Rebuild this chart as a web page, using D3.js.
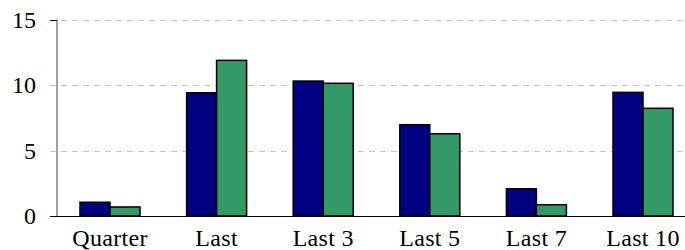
<!DOCTYPE html>
<html><head><meta charset="utf-8">
<script src="https://cdn.jsdelivr.net/npm/d3@7"></script>
<style>body{margin:0;background:#fff}svg{display:block}</style>
</head><body><svg id="c" width="685" height="250"></svg>
<script>
const categories = ["Quarter","Last","Last 3","Last 5","Last 7","Last 10"];
const seriesA = [1.05, 9.41, 10.3, 6.97, 2.08, 9.44];
const seriesB = [0.69, 11.88, 10.13, 6.28, 0.86, 8.22];
const yTicks = [0, 5, 10, 15];
const colors = ["#000080", "#339966"];

(function () {
const svg = d3.select("#c");
const mLeft = 56.7, mRight = 696.3, mTop = 19.5, mBottom = 216;
const x = d3.scaleBand().domain(categories).range([mLeft, mRight]).paddingInner(0).paddingOuter(0);
const y = d3.scaleLinear().domain([0, 15]).range([mBottom, mTop]);
const barW = 30;

// gridlines
svg.append("g").selectAll("line").data(yTicks.filter(t => t > 0)).join("line")
  .attr("x1", 50).attr("x2", 685)
  .attr("y1", d => Math.round(y(d)) + 0.5).attr("y2", d => Math.round(y(d)) + 0.5)
  .attr("stroke", "#c8c8c8").attr("stroke-width", 1).attr("stroke-dasharray", "6,5");

// y axis line
svg.append("line").attr("x1", 57).attr("x2", 57).attr("y1", y(15)).attr("y2", mBottom)
  .attr("stroke", "#808080").attr("stroke-width", 1.5);
// top tick
svg.append("line").attr("x1", 50).attr("x2", 57).attr("y1", Math.round(y(15)) + 0.5).attr("y2", Math.round(y(15)) + 0.5)
  .attr("stroke", "#000").attr("stroke-width", 1);

// bars
const groups = svg.append("g").selectAll("g").data(categories).join("g");
groups.each(function(c, i) {
  const cx = x(c) + x.bandwidth() / 2;
  const vals = [seriesA[i], seriesB[i]];
  d3.select(this).selectAll("rect").data(vals).join("rect")
    .attr("x", (d, j) => cx - barW + j * barW)
    .attr("y", d => y(d))
    .attr("width", barW)
    .attr("height", d => mBottom - y(d))
    .attr("fill", (d, j) => colors[j])
    .attr("stroke", "#000").attr("stroke-width", 1.5);
});

// baseline
svg.append("line").attr("x1", 50).attr("x2", 685).attr("y1", mBottom + 0.5).attr("y2", mBottom + 0.5)
  .attr("stroke", "#000").attr("stroke-width", 1);

// y labels
svg.append("g").selectAll("text").data(yTicks).join("text")
  .attr("x", 36).attr("y", d => y(d)).attr("dy", "0.34em")
  .attr("text-anchor", "end")
  .style("font-family", "'Liberation Serif', 'Times New Roman', serif")
  .style("font-size", "24px")
  .attr("fill", "#000").text(d => d);

// x labels
svg.append("g").selectAll("text").data(categories).join("text")
  .attr("x", d => x(d) + x.bandwidth() / 2).attr("y", 246)
  .attr("text-anchor", "middle")
  .style("font-family", "'Liberation Serif', 'Times New Roman', serif")
  .style("font-size", "24px").style("letter-spacing", "0.3px")
  .attr("fill", "#000").text(d => d);
})();
</script></body></html>
